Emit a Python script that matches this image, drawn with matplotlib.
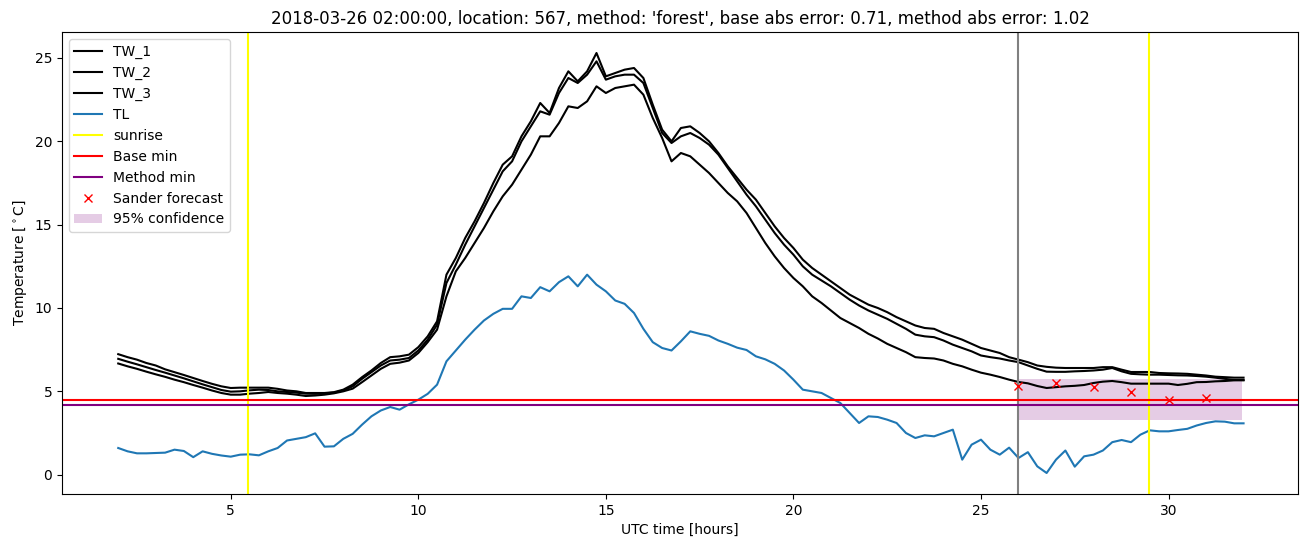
import numpy as np
import matplotlib
matplotlib.use("Agg")
import matplotlib.pyplot as plt

# time axis: 15-minute steps from 02:00 (hours since midnight of the day)
hours = 2 + 0.25 * np.arange(121)

tw_1 = [7.23, 7.05, 6.90, 6.70, 6.55, 6.32, 6.15, 5.98, 5.80, 5.62, 5.45, 5.30,
        5.20, 5.22, 5.22, 5.22, 5.22, 5.15, 5.05, 5.00, 4.90, 4.90, 4.90, 4.95,
        5.10, 5.40, 5.85, 6.25, 6.70, 7.05, 7.10, 7.20, 7.65, 8.30, 9.20, 12.0,
        13.0, 14.2, 15.2, 16.3, 17.5, 18.6, 19.1, 20.3, 21.2, 22.3, 21.7, 23.2,
        24.2, 23.6, 24.2, 25.3, 23.9, 24.1, 24.3, 24.4, 23.8, 22.2, 20.7, 20.0,
        20.8, 20.9, 20.5, 20.0, 19.3, 18.5, 17.8, 17.1, 16.5, 15.7, 14.9, 14.2,
        13.6, 12.9, 12.4, 12.0, 11.6, 11.2, 10.8, 10.5, 10.2, 10.0, 9.75, 9.45,
        9.20, 8.95, 8.80, 8.75, 8.50, 8.30, 8.10, 7.85, 7.60, 7.45, 7.30, 7.05,
        6.90, 6.75, 6.55, 6.47, 6.42, 6.40, 6.40, 6.40, 6.40, 6.45, 6.45, 6.30,
        6.16, 6.16, 6.16, 6.10, 6.08, 6.07, 6.05, 6.00, 5.95, 5.88, 5.85, 5.82,
        5.82]

tw_2 = [6.95, 6.78, 6.62, 6.45, 6.28, 6.12, 5.95, 5.78, 5.60, 5.42, 5.25, 5.08,
        4.98, 5.00, 5.06, 5.10, 5.08, 5.00, 4.96, 4.92, 4.86, 4.85, 4.88, 4.92,
        5.05, 5.30, 5.75, 6.15, 6.55, 6.85, 6.90, 7.00, 7.45, 8.10, 9.00, 11.5,
        12.6, 13.8, 14.9, 16.0, 17.1, 18.2, 18.8, 20.0, 20.9, 21.8, 21.6, 22.9,
        23.8, 23.5, 24.0, 24.8, 23.7, 23.9, 24.0, 24.0, 23.5, 22.0, 20.5, 19.9,
        20.3, 20.5, 20.2, 19.8, 19.2, 18.4, 17.6, 16.8, 16.1, 15.3, 14.5, 13.8,
        13.2, 12.5, 12.0, 11.65, 11.3, 10.9, 10.5, 10.15, 9.85, 9.60, 9.35, 9.05,
        8.75, 8.40, 8.30, 8.25, 8.05, 7.80, 7.60, 7.40, 7.15, 7.05, 6.97, 6.85,
        6.75, 6.55, 6.35, 6.18, 6.17, 6.17, 6.20, 6.22, 6.25, 6.30, 6.40, 6.20,
        6.05, 6.02, 6.00, 6.00, 5.98, 5.96, 5.95, 5.92, 5.88, 5.82, 5.75, 5.68,
        5.66]

tw_3 = [6.67, 6.50, 6.35, 6.18, 6.02, 5.87, 5.70, 5.55, 5.38, 5.22, 5.05, 4.90,
        4.80, 4.80, 4.86, 4.90, 4.96, 4.90, 4.86, 4.80, 4.72, 4.75, 4.80, 4.88,
        5.00, 5.16, 5.55, 5.95, 6.35, 6.65, 6.72, 6.85, 7.30, 7.95, 8.70, 10.7,
        12.2, 13.0, 13.9, 14.8, 15.8, 16.7, 17.4, 18.3, 19.2, 20.3, 20.3, 21.1,
        22.1, 22.0, 22.4, 23.3, 22.9, 23.2, 23.3, 23.4, 22.8, 21.4, 20.2, 18.8,
        19.3, 19.1, 18.6, 18.1, 17.5, 16.9, 16.4, 15.7, 14.8, 13.9, 13.1, 12.4,
        11.8, 11.3, 10.7, 10.3, 9.85, 9.40, 9.10, 8.80, 8.45, 8.17, 7.85, 7.60,
        7.35, 7.05, 7.00, 6.97, 6.85, 6.65, 6.50, 6.30, 6.12, 6.00, 5.86, 5.70,
        5.56, 5.48, 5.32, 5.20, 5.25, 5.30, 5.33, 5.38, 5.50, 5.58, 5.62, 5.55,
        5.46, 5.46, 5.46, 5.46, 5.46, 5.38, 5.45, 5.55, 5.56, 5.60, 5.62, 5.66,
        5.68]

tl = [1.60, 1.40, 1.28, 1.28, 1.30, 1.32, 1.50, 1.42, 1.05, 1.40, 1.25, 1.15,
      1.08, 1.20, 1.22, 1.16, 1.40, 1.60, 2.05, 2.15, 2.25, 2.48, 1.68, 1.70,
      2.15, 2.45, 3.00, 3.50, 3.85, 4.06, 3.90, 4.22, 4.50, 4.85, 5.40, 6.80,
      7.45, 8.10, 8.70, 9.25, 9.65, 9.95, 9.95, 10.70, 10.60, 11.25, 11.00, 11.55,
      11.90, 11.30, 12.00, 11.40, 11.00, 10.45, 10.25, 9.70, 8.75, 7.95, 7.60, 7.45,
      8.00, 8.60, 8.45, 8.33, 8.05, 7.85, 7.62, 7.48, 7.10, 6.92, 6.65, 6.25,
      5.70, 5.10, 5.00, 4.90, 4.60, 4.30, 3.70, 3.10, 3.50, 3.46, 3.30, 3.10,
      2.50, 2.20, 2.36, 2.30, 2.50, 2.70, 0.90, 1.80, 2.10, 1.50, 1.20, 1.62,
      1.00, 1.35, 0.50, 0.10, 0.90, 1.45, 0.48, 1.10, 1.20, 1.45, 1.95, 2.08,
      1.95, 2.40, 2.66, 2.60, 2.60, 2.68, 2.75, 2.95, 3.10, 3.20, 3.18, 3.08,
      3.08]

sunrise_hours = [5.46, 29.48]
forecast_start = 26.0
base_min = 4.46
method_min = 4.17
forecast_hours = [26, 27, 28, 29, 30, 31]
forecast_values = [5.30, 5.48, 5.24, 4.94, 4.46, 4.58]
conf_hours = [26, 31.95]
conf_low = 3.25
conf_high = 5.72

title = ("2018-03-26 02:00:00, location: 567, method: 'forest', "
         "base abs error: 0.71, method abs error: 1.02")

fig = plt.figure(figsize=(13.1, 5.47), dpi=100)
ax = fig.add_axes([0.0473, 0.0969, 0.9435, 0.8446])

ax.plot(hours, tw_1, color="black", label="TW_1")
ax.plot(hours, tw_2, color="black", label="TW_2")
ax.plot(hours, tw_3, color="black", label="TW_3")
ax.plot(hours, tl, color="#1f77b4", label="TL")
for i, s in enumerate(sunrise_hours):
    ax.axvline(s, color="yellow", label="sunrise" if i == 0 else None)
ax.axvline(forecast_start, color="gray")
ax.axhline(base_min, color="red", label="Base min")
ax.axhline(method_min, color="purple", label="Method min")
ax.plot(forecast_hours, forecast_values, "x", color="red", label="Sander forecast")
ax.fill_between(conf_hours, [conf_low] * 2, [conf_high] * 2, color="purple",
                alpha=0.2, linewidth=0, label="95% confidence")

ax.set_xlim(0.5, 33.45)
ax.set_title(title)
ax.set_xlabel("UTC time [hours]")
ax.set_ylabel("Temperature [$^\\circ$C]")
ax.legend(loc="upper left")

fig.savefig("out.png", dpi=100)
